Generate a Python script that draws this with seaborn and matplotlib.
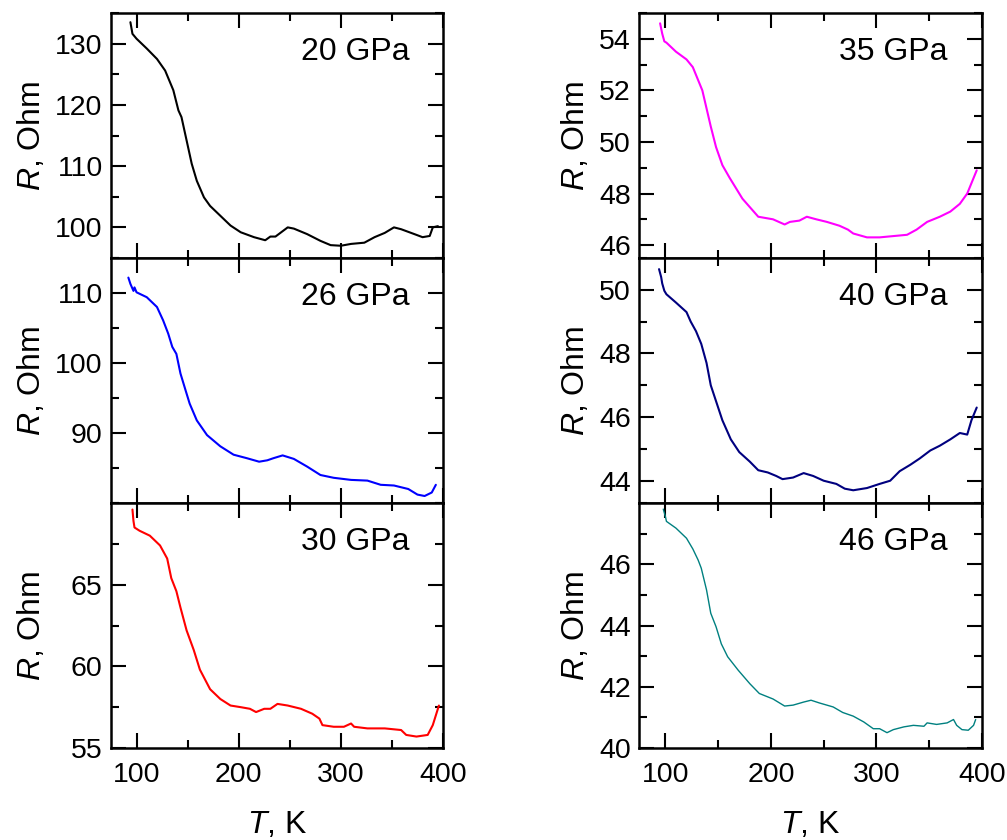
import numpy as np
import pandas as pd
import matplotlib
matplotlib.use("Agg")
import matplotlib.pyplot as plt
from matplotlib.ticker import MultipleLocator, FixedLocator
import seaborn as sns

# 20 GPa
T20 = [94, 96, 100, 110, 120, 128, 136, 141, 144, 149, 154, 159, 166, 172, 182, 192, 202, 215, 226, 231,
       236, 248, 254, 267, 280, 290, 300, 310, 323, 333, 343, 352, 359, 372, 380, 387, 390, 395]
R20 = [133.5, 131.6, 130.8, 129.2, 127.5, 125.6, 122.4, 119.1, 118.0, 114.2, 110.4, 107.6, 104.9, 103.5,
       101.9, 100.3, 99.2, 98.4, 97.9, 98.5, 98.5, 100.0, 99.8, 98.9, 97.8, 97.1, 97.0, 97.3, 97.5, 98.4,
       99.1, 100.0, 99.7, 98.9, 98.4, 98.6, 100.0, 100.2]

# 26 GPa
T26 = [92, 94, 97, 98, 100, 110, 120, 126, 131, 135, 139, 143, 148, 152, 159, 169, 182, 195, 208, 220,
       228, 234, 243, 254, 267, 280, 293, 310, 326, 339, 352, 366, 375, 382, 389, 393]
R26 = [112.2, 111.3, 110.3, 110.8, 110.1, 109.4, 108.0, 106.1, 104.2, 102.3, 101.3, 98.5, 96.1, 94.2,
       91.8, 89.7, 88.1, 86.9, 86.4, 85.9, 86.1, 86.4, 86.8, 86.3, 85.2, 84.0, 83.6, 83.3, 83.2, 82.6,
       82.5, 82.0, 81.2, 81.0, 81.5, 82.6]

# 30 GPa
T30 = [96, 97, 98, 103, 113, 123, 130, 134, 139, 143, 149, 156, 162, 172, 182, 192, 202, 211, 217, 225,
       231, 238, 248, 261, 272, 279, 282, 293, 303, 310, 313, 326, 343, 359, 364, 374, 385, 390, 396]
R30 = [69.6, 68.9, 68.5, 68.3, 68.0, 67.4, 66.6, 65.4, 64.6, 63.6, 62.2, 61.0, 59.8, 58.6, 58.0, 57.6,
       57.5, 57.4, 57.2, 57.4, 57.4, 57.7, 57.6, 57.4, 57.1, 56.8, 56.4, 56.3, 56.3, 56.5, 56.3, 56.2,
       56.2, 56.1, 55.8, 55.7, 55.8, 56.4, 57.6]

# 35 GPa
T35 = [95, 97, 99, 101, 110, 120, 126, 131, 135, 139, 143, 148, 154, 161, 173, 188, 202, 213, 218, 227,
       234, 243, 253, 265, 273, 278, 291, 303, 316, 329, 338, 348, 360, 370, 379, 386, 390, 395]
R35 = [54.6, 54.2, 53.9, 53.85, 53.5, 53.2, 52.9, 52.4, 52.0, 51.3, 50.6, 49.8, 49.1, 48.6, 47.8, 47.1,
       47.0, 46.8, 46.9, 46.95, 47.1, 47.0, 46.9, 46.75, 46.6, 46.45, 46.3, 46.3, 46.35, 46.4, 46.6,
       46.9, 47.1, 47.3, 47.6, 48.0, 48.4, 48.9]

# 40 GPa
T40 = [94, 96, 97, 99, 101, 110, 120, 124, 129, 134, 139, 143, 148, 154, 162, 170, 180, 188, 197, 205,
       211, 221, 231, 240, 250, 262, 270, 278, 291, 303, 313, 322, 332, 341, 351, 360, 370, 379, 386,
       390, 395]
R40 = [50.65, 50.4, 50.2, 49.97, 49.86, 49.6, 49.3, 49.0, 48.7, 48.3, 47.7, 47.0, 46.5, 45.9, 45.3, 44.9,
       44.6, 44.33, 44.26, 44.15, 44.05, 44.1, 44.24, 44.15, 44.0, 43.9, 43.75, 43.7, 43.77, 43.9, 44.0,
       44.3, 44.5, 44.7, 44.95, 45.1, 45.3, 45.5, 45.45, 45.9, 46.3]

# 46 GPa
T46 = [98, 100, 101, 110, 120, 126, 131, 134, 139, 143, 148, 153, 159, 169, 180, 189, 202, 213, 221, 231,
       238, 246, 259, 268, 278, 288, 297, 303, 310, 316, 326, 335, 345, 348, 357, 367, 373, 376, 381,
       387, 392, 394]
R46 = [47.8, 47.56, 47.4, 47.18, 46.85, 46.5, 46.14, 45.87, 45.16, 44.4, 43.96, 43.4, 42.98, 42.54, 42.1,
       41.78, 41.6, 41.37, 41.4, 41.5, 41.56, 41.47, 41.34, 41.16, 41.04, 40.85, 40.63, 40.63, 40.5,
       40.6, 40.69, 40.74, 40.71, 40.82, 40.77, 40.82, 40.93, 40.74, 40.6, 40.58, 40.74, 40.93]

pressures = ["20 GPa", "26 GPa", "30 GPa", "35 GPa", "40 GPa", "46 GPa"]
colors = ["black", "#0000ff", "#ff0000", "#ff00ff", "#00007f", "#008080"]

sns.set_style("ticks")
plt.rcParams["font.family"] = ["Liberation Sans", "DejaVu Sans"]
plt.rcParams["mathtext.fontset"] = "custom"
plt.rcParams["mathtext.rm"] = "Liberation Sans"
plt.rcParams["mathtext.it"] = "Liberation Sans:italic"
plt.rcParams["axes.edgecolor"] = "black"
plt.rcParams["xtick.color"] = "black"
plt.rcParams["ytick.color"] = "black"
plt.rcParams["text.color"] = "black"
plt.rcParams["axes.labelcolor"] = "black"

panels = [
    (T20, R20, (95, 135), [100, 110, 120, 130], 5, 1.5),
    (T26, R26, (80, 115), [90, 100, 110], 5, 1.5),
    (T30, R30, (55, 70), [55, 60, 65], 2.5, 1.5),
    (T35, R35, (45.5, 55), [46, 48, 50, 52, 54], 1, 1.5),
    (T40, R40, (43.3, 51), [44, 46, 48, 50], 1, 1.5),
    (T46, R46, (40, 48), [40, 42, 44, 46], 1, 1.0),
]

fig = plt.figure(figsize=(10.07, 8.4), dpi=100)
H = 840
W = 1007
gs_l = fig.add_gridspec(3, 1, left=111 / W, right=443 / W, top=1 - 13 / H, bottom=1 - 748 / H, hspace=0)
gs_r = fig.add_gridspec(3, 1, left=639 / W, right=982 / W, top=1 - 13 / H, bottom=1 - 748 / H, hspace=0)
axes = [fig.add_subplot(gs_l[i]) for i in range(3)] + [fig.add_subplot(gs_r[i]) for i in range(3)]

for i, ax in enumerate(axes):
    T, R, ylim, yt, minor, lw = panels[i]
    df = pd.DataFrame({"T": T, "R": R})
    sns.lineplot(data=df, x="T", y="R", ax=ax, color=colors[i], lw=lw, sort=False, estimator=None)
    ax.set_xlim(75, 400)
    ax.set_ylim(*ylim)
    ax.xaxis.set_major_locator(FixedLocator([100, 200, 300, 400]))
    ax.xaxis.set_minor_locator(FixedLocator([150, 250, 350]))
    ax.yaxis.set_major_locator(FixedLocator(yt))
    ax.yaxis.set_minor_locator(MultipleLocator(minor))
    ax.tick_params(which="both", direction="in", top=True, right=True, width=1.5, labelsize=20.5)
    ax.tick_params(which="major", length=11)
    ax.tick_params(which="minor", length=6)
    ax.tick_params(axis="y", pad=6)
    for s in ax.spines.values():
        s.set_linewidth(1.8)
    ax.set_ylabel("$R$, Ohm", fontsize=23, labelpad=6)
    ax.text(0.9, 0.84, pressures[i], transform=ax.transAxes, ha="right", va="center", fontsize=23)
    if i % 3 == 2:
        ax.set_xlabel("$T$, K", fontsize=23, labelpad=16)
        ax.tick_params(axis="x", pad=10)
    else:
        ax.set_xlabel("")
        ax.tick_params(axis="x", labelbottom=False)

fig.align_ylabels(axes[:3])
fig.align_ylabels(axes[3:])
fig.savefig("out.png", dpi=100)
